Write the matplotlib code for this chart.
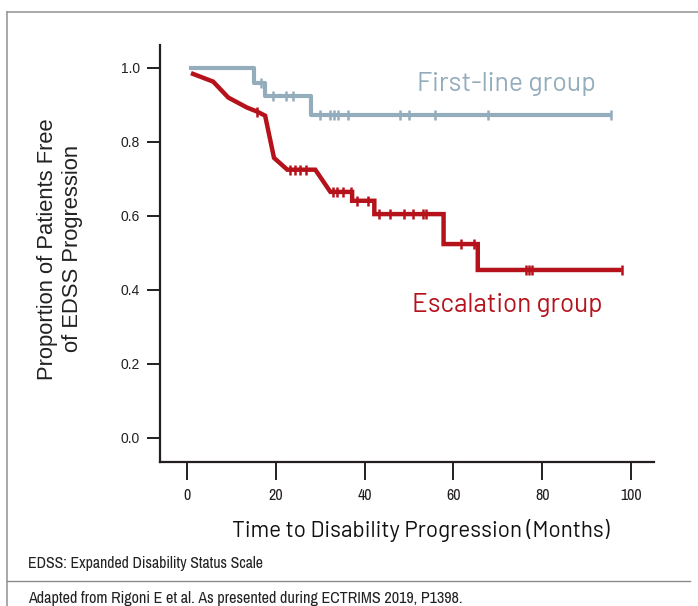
import matplotlib
matplotlib.use("Agg")
import matplotlib.pyplot as plt
from matplotlib.lines import Line2D

# ---------------- data ----------------
# First-line group (Kaplan-Meier step curve)
first_t = [0.45, 15.1, 17.6, 27.9, 95.5]
first_s = [1.0, 0.958, 0.923, 0.872, 0.872]
first_cens_t = [16.7, 19.4, 22.3, 23.9, 30.0, 32.2, 33.1, 34.0, 36.3, 48.0, 50.0, 55.9, 67.8, 95.5]
first_cens_s = [0.958, 0.923, 0.923, 0.923, 0.872, 0.872, 0.872, 0.872, 0.872, 0.872, 0.872, 0.872, 0.872, 0.872]

# Escalation group (path as drawn)
esc_t = [0.9, 5.9, 9.3, 13.5, 15.8, 17.6, 19.6, 22.6, 28.9, 32.3, 37.2, 37.2, 42.2, 42.2, 57.8, 57.8, 65.5, 65.5, 97.9]
esc_s = [0.985, 0.962, 0.919, 0.892, 0.881, 0.870, 0.756, 0.724, 0.724, 0.664, 0.664, 0.640, 0.640, 0.604, 0.604, 0.523, 0.523, 0.453, 0.453]
esc_cens_t = [15.8, 23.2, 24.3, 25.4, 26.9, 32.9, 33.9, 35.2, 36.9, 38.3, 40.8, 43.3, 45.7, 48.9, 51.0, 53.1, 53.8, 61.7, 64.6, 76.3, 77.0, 77.8, 97.9]
esc_cens_s = [0.881, 0.724, 0.724, 0.724, 0.724, 0.664, 0.664, 0.664, 0.664, 0.640, 0.640, 0.604, 0.604, 0.604, 0.604, 0.604, 0.604, 0.523, 0.523, 0.453, 0.453, 0.453, 0.453]

x_ticks = [0, 20, 40, 60, 80, 100]
y_ticks = [0.0, 0.2, 0.4, 0.6, 0.8, 1.0]
y_ticklabels = ["0.0", "0.2", "0.4", "0.6", "0.8", "1.0"]

RED = "#b5121b"
BLUE = "#93adbd"
DARK = "#231f20"

DIN = ["Barlow", "DejaVu Sans"]
NARROW = ["Archivo Narrow", "Liberation Sans", "DejaVu Sans"]
ARIAL = ["Liberation Sans", "DejaVu Sans"]

W, H = 698, 606
fig = plt.figure(figsize=(W / 100, H / 100), dpi=100)
ax = fig.add_axes([160 / W, 1 - 462 / H, (654 - 160) / W, (462 - 45) / H])

ax.plot(first_t, first_s, drawstyle="steps-post", color=BLUE, lw=3.0, solid_capstyle="butt", zorder=3)
ax.plot(first_cens_t, first_cens_s, ls="none", marker="|", ms=7.5, mew=1.8, color=BLUE, zorder=3)
ax.plot(esc_t, esc_s, color=RED, lw=3.2, solid_capstyle="butt", solid_joinstyle="miter", zorder=4)
ax.plot(esc_cens_t, esc_cens_s, ls="none", marker="|", ms=7.5, mew=1.8, color=RED, zorder=4)

ax.set_xlim(-6.08, 105.2)
ax.set_ylim(-0.066, 1.061)

for s in ["top", "right"]:
    ax.spines[s].set_visible(False)
for s in ["left", "bottom"]:
    ax.spines[s].set_linewidth(1.6)
    ax.spines[s].set_color(DARK)

ax.set_xticks(x_ticks)
ax.set_yticks(y_ticks)
ax.set_yticklabels(y_ticklabels)
ax.tick_params(axis="y", length=9.4, width=1.4, color=DARK, pad=5, labelsize=10)
ax.tick_params(axis="x", length=13, width=1.4, color=DARK, pad=6, labelsize=11.5)
for lab in ax.get_yticklabels():
    lab.set_family(ARIAL)
    lab.set_color("#231f20")
for lab in ax.get_xticklabels():
    lab.set_family(NARROW)
    lab.set_color("#231f20")

# curve labels
ax.text(51.8, 0.936, "First-line group", color=BLUE, fontsize=19.2, family=DIN, va="baseline", ha="left")
ax.text(50.7, 0.339, "Escalation group", color=RED, fontsize=18.8, family=DIN, va="baseline", ha="left")

# axis labels
fig.text(421 / W, 1 - 537 / H, "Time to Disability Progression (Months)", fontsize=16.2,
         family=DIN, ha="center", va="baseline", color="#111111")
fig.text(60.5 / W, 1 - 249 / H, "Proportion of Patients Free\nof EDSS Progression", fontsize=15.8,
         family=ARIAL, rotation=90, ha="center", va="center", linespacing=1.25, color="#222222")

# footer
fig.text(28 / W, 1 - 568 / H, "EDSS: Expanded Disability Status Scale", fontsize=11.4,
         family=NARROW, ha="left", va="baseline", color="#222222")
fig.text(28 / W, 1 - 603 / H, "Adapted from Rigoni E et al. As presented during ECTRIMS 2019, P1398.", fontsize=11.6,
         family=NARROW, ha="left", va="baseline", color="#222222")

# frame lines
fig.add_artist(Line2D([7 / W, 1.0], [1 - 12 / H, 1 - 12 / H], transform=fig.transFigure, color="#9a9a9a", lw=1.2))
fig.add_artist(Line2D([7 / W, 7 / W], [1 - 12 / H, 0], transform=fig.transFigure, color="#9a9a9a", lw=1.2))
fig.add_artist(Line2D([7 / W, 690 / W], [1 - 581 / H, 1 - 581 / H], transform=fig.transFigure, color="#8a8a8a", lw=1.0))

fig.savefig("out.png", dpi=100)
